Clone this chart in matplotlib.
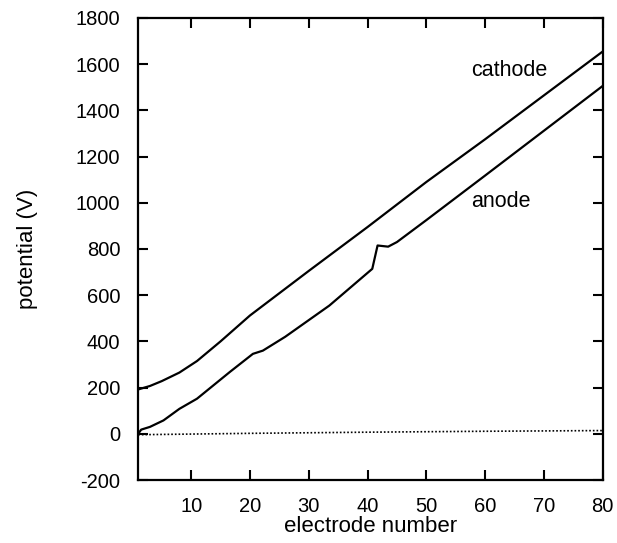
import numpy as np
import matplotlib
matplotlib.use("Agg")
import matplotlib.pyplot as plt
from matplotlib.ticker import FuncFormatter

plt.rcParams['font.family'] = ['Liberation Sans', 'DejaVu Sans']

# --- DATA ---
cathode_x = [1, 3, 5, 8, 11, 15, 20, 30, 40, 50, 60, 70, 80]
cathode_y = [192, 207, 228, 265, 315, 400, 512, 705, 895, 1090, 1275, 1465, 1655]

anode_x = [1, 1.5, 3, 5.3, 8, 11, 16.6, 20.5, 22.2, 26, 33.5, 40.8, 41.7, 43.5, 45, 50, 60, 70, 80]
anode_y = [0, 18, 30, 58, 108, 152, 268, 346, 360, 420, 555, 714, 815, 810, 830, 925, 1118, 1312, 1506]

ref_x = [1, 20, 40, 60, 80]
ref_y = [-4, 2, 7, 11, 14]

x_ticks = [10, 20, 30, 40, 50, 60, 70, 80]
y_ticks = [-200, 0, 200, 400, 600, 800, 1000, 1200, 1400, 1600, 1800]

# --- PLOT ---
fig = plt.figure(figsize=(6.17, 5.43), dpi=100)
ax = fig.add_axes([0.224, 0.116, 0.753, 0.851])

ax.plot(cathode_x, cathode_y, color='black', linewidth=1.6)
ax.plot(anode_x, anode_y, color='black', linewidth=1.6)
ax.plot(ref_x, ref_y, color='black', linewidth=1.2, linestyle=(0, (1, 1.2)))

ax.set_xlim(1, 80)
ax.set_ylim(-200, 1800)
ax.set_xticks(x_ticks)
ax.set_yticks(y_ticks)
ax.yaxis.set_major_formatter(FuncFormatter(lambda v, p: '%d' % v))
ax.tick_params(direction='in', length=7, width=1.5, top=True, right=True,
               labelsize=14.5)
ax.tick_params(axis='y', pad=13)
ax.tick_params(axis='x', pad=12)
for s in ax.spines.values():
    s.set_linewidth(1.6)

ax.set_xlabel('electrode number', fontsize=16, labelpad=0)
ax.set_ylabel('potential (V)', fontsize=16, labelpad=27)

ax.text(57.6, 1550, 'cathode', fontsize=15.5)
ax.text(57.6, 983, 'anode', fontsize=15.5)

fig.savefig('out.png', dpi=100)
